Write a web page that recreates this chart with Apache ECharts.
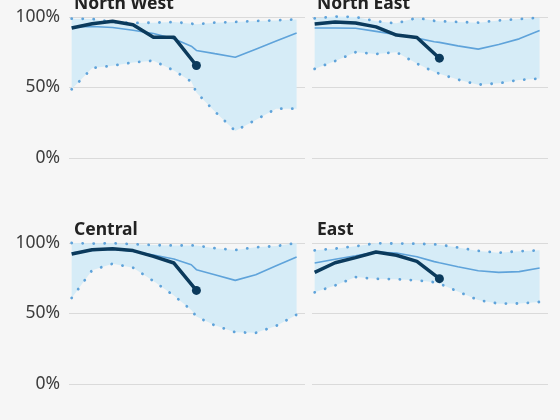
<!DOCTYPE html>
<html>
<head>
<meta charset="utf-8">
<script src="https://cdn.jsdelivr.net/npm/echarts@6/dist/echarts.min.js"></script>
<style>
  html, body { margin: 0; padding: 0; background: #f6f6f6; }
  #chart { width: 560px; height: 420px; }
</style>
</head>
<body>
<div id="chart"></div>
<script>
// x positions in months from end of January (5.85 / 6.1 = late-July readings)
const monthPos = [0, 1, 2, 3, 4, 5, 5.85, 6.1, 7, 8, 9, 10, 11];
const monthPosThisYear = [0, 1, 2, 3, 4, 5, 6.1];

const regions = ['North West', 'North East', 'Central', 'East'];

// reservoir stocks, % of capacity
const northWestMax = [98.8, 98.6, 96.5, 95.7, 96, 96.4, 95.3, 94.8, 96, 96.5, 97.2, 97.6, 98.3];
const northWestAvg = [92.9, 93.3, 92.6, 90.6, 88.3, 84.5, 79.3, 76.3, 74, 71.5, 77.2, 82.9, 88.6];
const northWestMin = [48.7, 63.8, 65.5, 67.8, 69, 62, 54.2, 46.5, 33, 19.2, 27, 35, 35];
const northWestNow = [92.2, 95.2, 97, 94.5, 85.7, 85.7, 65.6];

const northEastMax = [99, 100.3, 100, 97, 95.5, 99.4, 97.3, 97, 96.5, 96, 97.6, 98.5, 99.5];
const northEastAvg = [92.2, 92.2, 92, 89.8, 87.5, 85, 82.5, 82, 79.5, 77.2, 80.5, 84.5, 90.5];
const northEastMin = [63.2, 68.8, 75, 73.8, 75, 67, 61, 59.8, 55.6, 52, 53, 55.4, 56.3];
const northEastNow = [95, 96.5, 95.8, 93, 87.2, 85.5, 70.8];

const centralMax = [100, 99.6, 99.8, 99.2, 98.5, 98.2, 98.3, 98.2, 96.3, 95, 97, 97.8, 100];
const centralAvg = [92.9, 94.8, 95.6, 94.1, 91.5, 88.6, 84.6, 81.1, 77.5, 73.5, 77.5, 83.8, 90.1];
const centralMin = [61, 80.7, 85.3, 82.5, 73, 62.7, 52.5, 47.8, 41.6, 36.7, 36.3, 41.2, 49.2];
const centralNow = [92.2, 95.2, 96, 94.6, 90.5, 85.8, 66.4];

const eastMax = [94.8, 96, 97.7, 99.8, 99.6, 99.5, 99, 98.8, 96.8, 94.4, 93.1, 94.2, 94.8];
const eastAvg = [85.8, 88.5, 91, 93.6, 92.9, 90.3, 86.8, 86, 83.2, 80.3, 79.2, 79.7, 82.3];
const eastMin = [65, 69.9, 75.8, 74.6, 74.3, 73.5, 72.2, 71.2, 65.6, 59.5, 57, 57.1, 58.2];
const eastNow = [79.2, 86, 89.6, 93.6, 91.3, 87, 74.7];

const yTicks = [0, 50, 100];

const panels = [
  { max: northWestMax, avg: northWestAvg, min: northWestMin, now: northWestNow },
  { max: northEastMax, avg: northEastAvg, min: northEastMin, now: northEastNow },
  { max: centralMax, avg: centralAvg, min: centralMin, now: centralNow },
  { max: eastMax, avg: eastAvg, min: eastMin, now: eastNow },
];

const FONT = '"Noto Sans", sans-serif';
const BAND = '#d6ecf7';
const LIGHT = '#5fa3da';
const DARK = '#0b3a5c';

function pairs(xs, ys) {
  return ys.map((y, i) => [xs[i], y]);
}

const dotted = { color: LIGHT, width: 2.8, type: [0.1, 10.9], cap: 'round' };

const grids = [];
const xAxes = [];
const yAxes = [];
const titles = [];
let series = [];

panels.forEach((p, i) => {
  const col = i % 2;
  const row = Math.floor(i / 2);
  const left = col === 0 ? 69 : 312;
  const top = row === 0 ? 17 : 243;

  grids.push({ left: left, top: top, width: 236, height: 141 });
  titles.push({
    text: regions[i],
    left: left,
    top: top - 27,
    textStyle: { fontFamily: FONT, fontSize: 17.5, fontWeight: 'bold', color: '#222' },
  });
  xAxes.push({
    type: 'value', gridIndex: i, min: -0.13, max: 11.41,
    show: false,
  });
  yAxes.push({
    type: 'value', gridIndex: i, min: yTicks[0], max: yTicks[2], interval: 50,
    axisLine: { show: false },
    axisTick: { show: false },
    axisLabel: {
      show: col === 0, formatter: '{value}%', margin: 9,
      fontFamily: FONT, fontSize: 17.5, color: '#3c3c3c',
    },
    splitLine: { lineStyle: { color: '#dadada', width: 1 } },
  });

  const common = { xAxisIndex: i, yAxisIndex: i, clip: false, silent: true };

  // shaded range between historic min and max, drawn as one polygon
  const bandData = monthPos.map((x, k) => [x, p.min[k], p.max[k]]);
  series.push(Object.assign({}, common, {
    type: 'custom',
    data: bandData,
    encode: { x: 0, y: [1, 2] },
    renderItem: function (params, api) {
      if (params.dataIndex !== 0) return null;
      const upper = bandData.map(d => api.coord([d[0], d[2]]));
      const lower = bandData.map(d => api.coord([d[0], d[1]])).reverse();
      return {
        type: 'polygon',
        shape: { points: upper.concat(lower) },
        style: { fill: BAND },
      };
    },
  }));

  series.push(
    Object.assign({}, common, { type: 'line', symbol: 'none', data: pairs(monthPos, p.max), lineStyle: dotted }),
    Object.assign({}, common, { type: 'line', symbol: 'none', data: pairs(monthPos, p.min), lineStyle: dotted }),
    Object.assign({}, common, {
      type: 'line', symbol: 'none', data: pairs(monthPos, p.avg),
      lineStyle: { color: LIGHT, width: 1.6 },
    }),
    Object.assign({}, common, {
      type: 'line', symbol: 'none', data: pairs(monthPosThisYear, p.now),
      lineStyle: { color: DARK, width: 3.5, join: 'round' },
    }),
    // latest reading marker
    Object.assign({}, common, {
      type: 'scatter', symbol: 'circle', symbolSize: 9,
      data: [[monthPosThisYear[monthPosThisYear.length - 1], p.now[p.now.length - 1]]],
      itemStyle: { color: DARK, opacity: 1 },
    })
  );
});

const chart = echarts.init(document.getElementById('chart'));
chart.setOption({
  backgroundColor: '#f6f6f6',
  animation: false,
  title: titles,
  grid: grids,
  xAxis: xAxes,
  yAxis: yAxes,
  series: series,
});
</script>
</body>
</html>
